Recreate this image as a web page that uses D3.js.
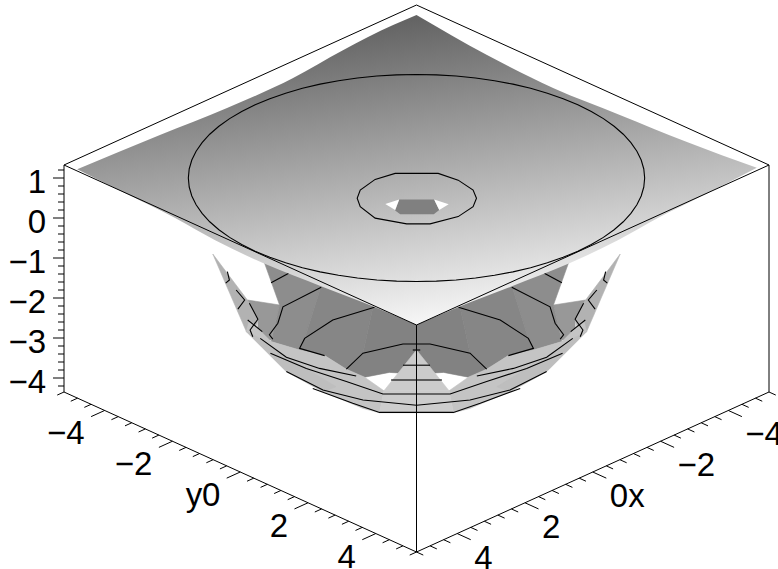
<!DOCTYPE html>
<html><head><meta charset="utf-8">
<style>html,body{margin:0;padding:0;background:#fff}svg{display:block}text{font-family:"Liberation Sans",Arial,sans-serif;font-size:33px;fill:#000}</style>
<script src="https://cdn.jsdelivr.net/npm/d3@7"></script></head><body><svg id="c" width="778" height="569"></svg>
<script>
// ---- axis data
const axisExtent=[-5.2,5.2], zExtent=[-4.35,1.325];
const xyLabels=[-4,-2,0,2,4];
const zLabels=[1,0,-1,-2,-3,-4];
const xyTicks=d3.range(-13,14).map(k=>k*0.4);
const zTicks=d3.range(-21,7).map(k=>k*0.2);
const xName="x", yName="y";
// ---- upper sheet: rim of the surface [x,y,z]
const rimFrontLeft=[[5.2,-4.81,1.37],[5.2,-3.34,1.315],[5.2,-1.92,1.26],[5.2,-0.74,1.16],[5.2,0.67,1.13],[5.2,2.44,1.215],[5.2,3.98,1.30],[5.2,5.2,1.325]];
const rimFrontRight=[[5.2,5.2,1.325],[3.98,5.2,1.30],[2.44,5.2,1.215],[0.67,5.2,1.13],[-0.74,5.2,1.16],[-1.92,5.2,1.26],[-3.34,5.2,1.315],[-5.2,4.84,1.115]];
const rimBackRight=[[-5.2,4.84,1.115],[-5.2,2.78,0.97],[-5.2,0.8,0.885],[-5.2,-1.17,0.8],[-5.2,-3.12,0.875],[-5.2,-5.2,1.075]];
const rimBackLeft=[[-5.2,-5.2,1.075],[-4.51,-5.2,1.09],[-3.03,-5.2,1.03],[-1.56,-5.2,0.9],[0.39,-5.2,0.9],[2.37,-5.2,0.985],[5.2,-4.81,1.37]];
// ---- upper sheet: contours
const outerContourLevel=1, outerContourRadius=4.76;
const innerContourLevel=0.5;
const innerContour=[[0.885,-0.865],[0.57,-1.09],[0.005,-1.215],[-0.485,-1.115],[-1.12,-0.48],[-1.195,0.035],[-1.095,0.575],[-0.875,0.895],[-0.555,1.115],[-0.01,1.22],[0.64,1.04],[0.985,0.695],[1.265,0.045],[1.11,-0.55]];
// ---- hole at the centre of the upper sheet, level 0.25
const holeLevel=0.25;
const holeFloor=[[-0.025,-0.535],[-0.54,-0.02],[-0.27,0.4],[-0.05,0.46],[0.445,-0.035],[0.4,-0.23]];
const holeLeft=[[0.33,-0.59],[-0.025,-0.535],[0.38,-0.25]];
const holeRight=[[-0.54,-0.02],[-0.595,0.355],[-0.27,0.4]];
// ---- lower sheet: facets, left half [across (y-x), z], mirrored for the right half
const bowlFacets=[
 {g:152,p:[[-4.99,-2.05],[-4.04,-2.175],[-4.29,-3.05],[-4.68,-3.05],[-4.68,-2.55]]},
 {g:141,p:[[-4.55,-0.97],[-2.76,-1.55],[-3.30,-3.01],[-3.45,-3.30],[-4.29,-3.09],[-4.04,-2.175]]},
 {g:134,p:[[-2.76,-1.55],[-1.24,-2.05],[-1.58,-3.38],[-2.07,-3.78],[-2.71,-3.44],[-3.45,-3.30],[-3.30,-3.01]]},
 {g:130,p:[[-1.24,-2.05],[0,-2.47],[0,-3.34],[-0.40,-3.88],[-0.80,-3.86],[-1.53,-3.98],[-2.07,-3.78],[-1.58,-3.38]]},
 {g:178,p:[[-6.01,-0.90],[-4.99,-2.05],[-4.68,-2.55],[-4.83,-2.97],[-5.02,-2.84]]},
 {g:196,p:[[-4.93,-2.55],[-4.29,-3.09],[-3.45,-3.30],[-2.71,-3.44],[-2.07,-3.78],[-1.53,-3.98],[-0.96,-4.32],[-1.09,-4.87],[-1.58,-4.76],[-2.76,-4.34],[-3.84,-3.84],[-5.02,-2.84]]},
 {g:190,p:[[-5.02,-2.84],[-3.84,-3.84],[-2.76,-4.34],[-2.37,-4.22],[-3.75,-3.51],[-4.61,-3.01]]},
 {g:205,p:[[-0.96,-4.32],[0,-4.32],[0,-4.87],[-1.09,-4.87]]},
 {g:203,p:[[0,-3.30],[-0.96,-4.32],[0,-4.32]]}
];
const bowlContours=[
 [[-4.29,-1.62],[-3.77,-1.38]],
 [[-2.81,-1.73],[-3.94,-2.22],[-4.09,-2.63],[-4.34,-2.92],[-4.24,-3.03]],
 [[-1.24,-2.23],[-2.47,-2.55],[-3.30,-3.01],[-3.45,-3.26],[-2.71,-3.44]],
 [[-2.07,-3.78],[-1.58,-3.38],[-0.40,-3.15],[0,-3.15]],
 [[-5.58,-1.34],[-5.52,-1.55],[-5.63,-1.63]],
 [[-5.32,-1.80],[-5.07,-2.05],[-5.27,-2.28]],
 [[-4.93,-2.13],[-4.68,-2.53],[-4.91,-2.80],[-4.83,-2.97]],
 [[-4.98,-2.55],[-4.55,-2.84]],
 [[-4.61,-3.01],[-3.84,-3.48],[-2.86,-3.76],[-1.78,-3.95]],
 [[-4.31,-3.38],[-3.25,-3.76],[-2.07,-4.09],[-0.99,-4.40],[0,-4.40]],
 [[-3.84,-3.84],[-2.76,-4.30],[-1.58,-4.55],[0,-4.68]],
 [[-3.06,-4.26],[-1.88,-4.63],[-1.09,-4.86],[0,-4.86]],
 [[-0.40,-3.68],[0,-3.68]],
 [[-0.75,-4.05],[0,-4.05]],
 [[-0.11,-3.30],[0,-3.30]]
];
// ---- scales and projection
const acrossX=d3.scaleLinear().domain(axisExtent).range([0,352.5]);
const acrossY=d3.scaleLinear().domain(axisExtent).range([0,352.5]);
const downX=d3.scaleLinear().domain(axisExtent).range([0,160]);
const downY=d3.scaleLinear().domain(axisExtent).range([0,160]);
const rise=d3.scaleLinear().domain(zExtent).range([0,227]);
const project=(x,y,z)=>[416.5+acrossY(y)-acrossX(x),232+downX(x)+downY(y)-rise(z)];
const flat=(u,z,sign=1)=>project(-sign*u/2,sign*u/2,z);
const svg=d3.select("#c");
const line=d3.line();
const smooth=d3.line().curve(d3.curveMonotoneX);
const poly=pts=>line(pts)+"Z";
const grey=g=>d3.rgb(g,g,g).formatHex();
// gradient of the upper sheet
const grad=svg.append("defs").append("linearGradient").attr("id","sheet").attr("gradientUnits","userSpaceOnUse")
 .attr("x1",397).attr("y1",22).attr("x2",437).attr("y2",330);
grad.append("stop").attr("offset",0).attr("stop-color",grey(100));
grad.append("stop").attr("offset",1).attr("stop-color",grey(250));
// lower sheet
[1,-1].forEach(s=>{
 svg.append("g").selectAll("path").data(bowlFacets).join("path")
  .attr("d",f=>poly(f.p.map(d=>flat(d[0],d[1],s)))).attr("fill",f=>grey(f.g)).attr("stroke",f=>grey(f.g)).attr("stroke-width",0.6);
});
[1,-1].forEach(s=>{
 svg.append("g").selectAll("path").data(bowlContours).join("path")
  .attr("d",c=>line(c.map(d=>flat(d[0],d[1],s)))).attr("fill","none").attr("stroke","#000").attr("stroke-width",1.1);
});
// upper sheet
const edge=e=>smooth(e.map(p=>project(...p)));
const cont=s=>s.replace(/^M/,"L");
svg.append("path").attr("d",edge(rimFrontLeft)+cont(edge(rimFrontRight))+cont(edge(rimBackRight))+cont(edge(rimBackLeft))+"Z").attr("fill","url(#sheet)");
svg.append("path").attr("d",poly(holeFloor.map(d=>project(d[0],d[1],holeLevel)))).attr("fill",grey(128));
[holeLeft,holeRight].forEach(h=>svg.append("path").attr("d",poly(h.map(d=>project(d[0],d[1],holeLevel)))).attr("fill","#fff"));
const outer=d3.range(0,360,5).map(a=>{const t=a*Math.PI/180;return project(outerContourRadius*Math.cos(t),outerContourRadius*Math.sin(t),outerContourLevel);});
svg.append("path").attr("d",poly(outer)).attr("fill","none").attr("stroke","#000").attr("stroke-width",1.1);
svg.append("path").attr("d",poly(innerContour.map(d=>project(d[0],d[1],innerContourLevel)))).attr("fill","none").attr("stroke","#000").attr("stroke-width",1.1);
// box
const [a0,a1]=axisExtent,[z0,z1]=zExtent;
const boxEdges=[
 [[a1,a0,z1],[a0,a0,z1]],[[a0,a0,z1],[a0,a1,z1]],[[a0,a1,z1],[a1,a1,z1]],[[a1,a1,z1],[a1,a0,z1]],
 [[a1,a0,z0],[a1,a0,z1]],[[a0,a1,z0],[a0,a1,z1]],[[a1,a1,z0],[a1,a1,z1]],
 [[a1,a0,z0],[a1,a1,z0]],[[a1,a1,z0],[a0,a1,z0]]
];
const lines=svg.append("g").attr("stroke","#000").attr("stroke-width",1).attr("fill","none");
lines.selectAll("path.box").data(boxEdges).join("path").attr("class","box").attr("d",e=>line(e.map(d=>project(...d))));
// ticks
const isMajor=v=>xyLabels.some(l=>Math.abs(l-v)<1e-6);
const tickLen=v=>isMajor(v)?0.4:0.2;
lines.selectAll("path.yt").data(xyTicks).join("path").attr("class","yt").attr("d",v=>line([project(a1,v,z0),project(a1+tickLen(v),v,z0)]));
lines.selectAll("path.xt").data(xyTicks).join("path").attr("class","xt").attr("d",v=>line([project(v,a1,z0),project(v,a1+tickLen(v),z0)]));
lines.selectAll("path.zt").data(zTicks).join("path").attr("class","zt").attr("d",v=>{
 const p=project(a1,a0,v);const major=zLabels.some(l=>Math.abs(l-v)<1e-6);return line([p,[p[0]-(major?11:6),p[1]]]);});
// labels
const fmt=v=>v<0?"\u2212"+(-v):""+v;
xyLabels.forEach(v=>{
 const p=project(a1,v,z0);
 svg.append("text").attr("x",p[0]-20).attr("y",p[1]+34).attr("text-anchor","end").text(fmt(v));
 const q=project(v,a1,z0);
 svg.append("text").attr("x",q[0]+17).attr("y",q[1]+35).attr("text-anchor","start").text(fmt(v));
});
zLabels.forEach(v=>{
 const p=project(a1,a0,v);
 svg.append("text").attr("x",46).attr("y",p[1]+14.5).attr("text-anchor","end").text(fmt(v));
});
const y0=project(a1,0,z0), x0=project(0,a1,z0);
svg.append("text").attr("x",y0[0]-38).attr("y",y0[1]+34).attr("text-anchor","end").text(yName);
svg.append("text").attr("x",x0[0]+35.5).attr("y",x0[1]+35).attr("text-anchor","start").text(xName);
</script></body></html>
